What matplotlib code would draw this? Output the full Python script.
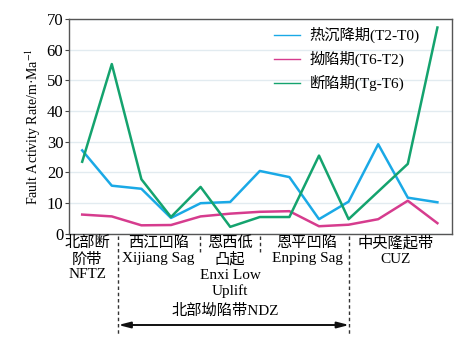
import numpy as np
import matplotlib
matplotlib.use("Agg")
import matplotlib.pyplot as plt
from matplotlib.transforms import blended_transform_factory

plt.rcParams['font.family'] = ['Liberation Serif', 'Noto Sans CJK SC', 'DejaVu Sans']
plt.rcParams['mathtext.fontset'] = 'stix'

# data (13 sampling points along the profile)
idx = np.arange(13)
thermal = [27.2, 15.7, 14.7, 5.2, 10.0, 10.4, 20.5, 18.5, 4.8, 10.5, 29.2, 11.8, 10.3]
depression = [6.3, 5.7, 2.8, 2.9, 5.7, 6.6, 7.2, 7.4, 2.5, 3.0, 4.8, 10.8, 3.5]
rift = [23.5, 55.3, 17.8, 5.5, 15.3, 2.3, 5.5, 5.5, 25.5, 4.8, 13.8, 22.8, 67.2]
series_names = ['热沉降期(T2-T0)', '拗陷期(T6-T2)', '断陷期(Tg-T6)']

# zones below the axis
zone_labels = ['北部断\n阶带\nNFTZ', '西江凹陷\nXijiang Sag', '恩西低\n凸起\nEnxi Low\nUplift',
               '恩平凹陷\nEnping Sag', '中央隆起带\nCUZ']
zone_centers = [0.17, 2.57, 5.0, 7.6, 10.6]
long_seps = [1.22, 9.02]
short_seps = [3.99, 6.01]
group_label = '北部坳陷带NDZ'

fig = plt.figure(figsize=(4.75, 3.44), dpi=100)
ax = fig.add_axes([0.145, 0.320, 0.807, 0.625])

ax.plot(idx, thermal, color='#1AA9E6', lw=1.8, label=series_names[0])
ax.plot(idx, depression, color='#D63C8E', lw=1.8, label=series_names[1])
ax.plot(idx, rift, color='#14A36E', lw=1.8, label=series_names[2])

ax.set_xlim(-0.45, 12.5)
ax.set_ylim(0, 70)
ax.set_yticks(range(0, 71, 10))
ax.set_xticks([])
ax.tick_params(axis='y', labelsize=12, length=3, width=0.8, pad=1, color='#444444')
for s in ax.spines.values():
    s.set_color('#555555')
    s.set_linewidth(1.0)
ax.grid(axis='y', color='#e2ebf0', lw=1.0)
ax.set_axisbelow(True)
ax.set_ylabel('Fault Activity Rate/m·Ma$^{-1}$', fontsize=10, labelpad=3)

leg = ax.legend(loc='upper left', bbox_to_anchor=(0.50, 1.025), frameon=False,
                fontsize=11, handlelength=1.7, handletextpad=0.6, labelspacing=0.5)
for h in leg.get_lines():
    h.set_linewidth(1.0)

trans = blended_transform_factory(ax.transData, fig.transFigure)
for xc, lab in zip(zone_centers, zone_labels):
    ax.text(xc, 1 - 236 / 344, lab, transform=trans, ha='center', va='top',
            fontsize=11, linespacing=1.2, clip_on=False)

for xs in long_seps:
    ax.plot([xs, xs], [1 - 236 / 344, 1 - 335 / 344], transform=trans, clip_on=False,
            color='#333333', lw=1.0, ls=(0, (2.5, 2)))
for xs in short_seps:
    ax.plot([xs, xs], [1 - 236 / 344, 1 - 252 / 344], transform=trans, clip_on=False,
            color='#333333', lw=1.0, ls=(0, (2.5, 2)))

ax.text(4.83, 1 - 311 / 344, group_label, transform=trans,
        ha='center', va='center', fontsize=11, clip_on=False)
ax.annotate('', xy=(long_seps[0], 1 - 325 / 344), xytext=(long_seps[1], 1 - 325 / 344),
            xycoords=trans, textcoords=trans,
            arrowprops=dict(arrowstyle='<|-|>,head_length=0.7,head_width=0.18',
                            color='#111111', lw=1.4, shrinkA=0, shrinkB=0))

fig.savefig('out.png', dpi=100)
